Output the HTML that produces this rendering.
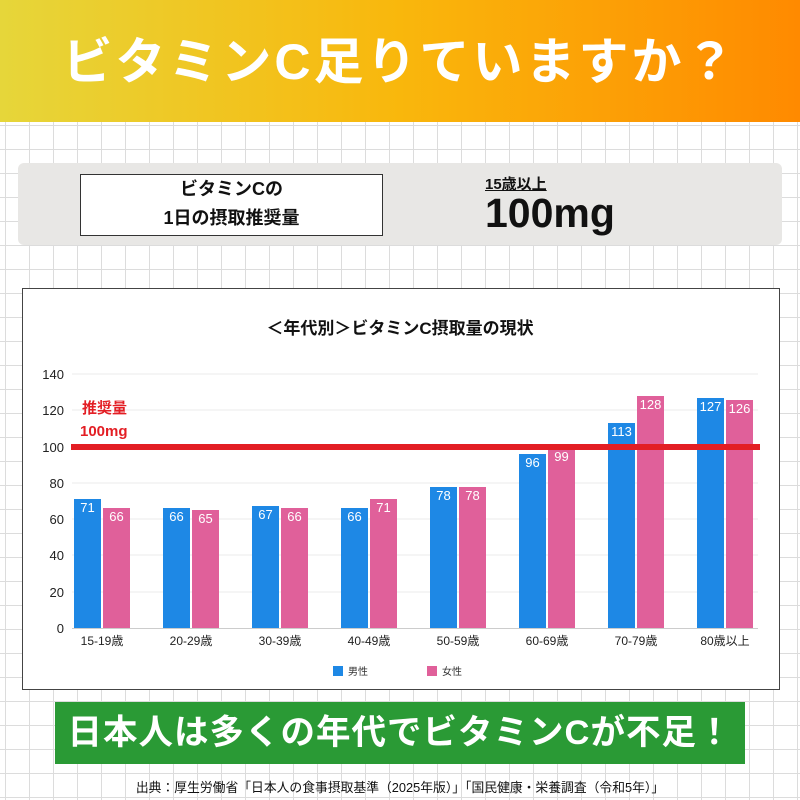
<!DOCTYPE html>
<html><head><meta charset="utf-8"><style>
body{margin:0;width:800px;height:800px;position:relative;overflow:hidden;font-family:"Liberation Sans","Noto Sans CJK JP",sans-serif;
background-color:#fff;background-image:linear-gradient(#dcdcdc 1px,transparent 1px),linear-gradient(90deg,#dcdcdc 1px,transparent 1px);background-size:24px 24px;background-position:5px 5px}
.abs{position:absolute}
</style></head><body>
<div class="abs" style="left:0;top:0;width:800px;height:122px;background:linear-gradient(90deg,#e6d63a 0%,#f9b70c 50%,#ff8a00 100%)"></div>
<div class="abs" style="left:0;top:22px;width:800px;text-align:center;color:#fff;font-size:50px;font-weight:bold;line-height:80px;letter-spacing:3px">ビタミンC足りていますか？</div>
<div class="abs" style="left:18px;top:163px;width:764px;height:82px;background:#e8e7e5;border-radius:6px"></div>
<div class="abs" style="left:80px;top:174px;width:301px;height:60px;background:#fff;border:1.5px solid #333;text-align:center;font-size:18px;font-weight:bold;line-height:29px;color:#111">ビタミンCの<br>1日の摂取推奨量</div>
<div class="abs" style="left:485px;top:173px;font-size:15px;font-weight:bold;text-decoration:underline;color:#111">15歳以上</div>
<div class="abs" style="left:485px;top:190px;font-size:41px;font-weight:bold;color:#111">100mg</div>
<div class="abs" style="left:22px;top:288px;width:756px;height:400px;background:#fff;border:1.5px solid #444"></div>
<svg class="abs" style="left:0;top:0" width="800" height="800" font-family="Liberation Sans, Noto Sans CJK JP, sans-serif">
<text x="400" y="334" text-anchor="middle" font-size="17" font-weight="bold" fill="#111">＜年代別＞ビタミンC摂取量の現状</text>
<g stroke="#ebebeb" stroke-width="1">
<line x1="72" x2="758" y1="374" y2="374"/><line x1="72" x2="758" y1="410" y2="410"/><line x1="72" x2="758" y1="447" y2="447"/><line x1="72" x2="758" y1="483" y2="483"/><line x1="72" x2="758" y1="519" y2="519"/><line x1="72" x2="758" y1="555" y2="555"/><line x1="72" x2="758" y1="592" y2="592"/></g>
<line x1="72" x2="758" y1="628.5" y2="628.5" stroke="#ccc"/>
<g font-size="13" fill="#222" text-anchor="end">
<text x="64" y="379">140</text><text x="64" y="415">120</text><text x="64" y="452">100</text><text x="64" y="488">80</text><text x="64" y="524">60</text><text x="64" y="560">40</text><text x="64" y="597">20</text><text x="64" y="633">0</text></g>
<g font-size="13" fill="#fff" text-anchor="middle">
<rect x="74" y="499" width="27" height="129" fill="#1e88e5"/><text x="87.5" y="512">71</text>
<rect x="103" y="508" width="27" height="120" fill="#e0609a"/><text x="116.5" y="521">66</text>
<rect x="163" y="508" width="27" height="120" fill="#1e88e5"/><text x="176.5" y="521">66</text>
<rect x="192" y="510" width="27" height="118" fill="#e0609a"/><text x="205.5" y="523">65</text>
<rect x="252" y="506" width="27" height="122" fill="#1e88e5"/><text x="265.5" y="519">67</text>
<rect x="281" y="508" width="27" height="120" fill="#e0609a"/><text x="294.5" y="521">66</text>
<rect x="341" y="508" width="27" height="120" fill="#1e88e5"/><text x="354.5" y="521">66</text>
<rect x="370" y="499" width="27" height="129" fill="#e0609a"/><text x="383.5" y="512">71</text>
<rect x="430" y="487" width="27" height="141" fill="#1e88e5"/><text x="443.5" y="500">78</text>
<rect x="459" y="487" width="27" height="141" fill="#e0609a"/><text x="472.5" y="500">78</text>
<rect x="519" y="454" width="27" height="174" fill="#1e88e5"/><text x="532.5" y="467">96</text>
<rect x="548" y="448" width="27" height="180" fill="#e0609a"/><text x="561.5" y="461">99</text>
<rect x="608" y="423" width="27" height="205" fill="#1e88e5"/><text x="621.5" y="436">113</text>
<rect x="637" y="396" width="27" height="232" fill="#e0609a"/><text x="650.5" y="409">128</text>
<rect x="697" y="398" width="27" height="230" fill="#1e88e5"/><text x="710.5" y="411">127</text>
<rect x="726" y="400" width="27" height="228" fill="#e0609a"/><text x="739.5" y="413">126</text>
</g>
<rect x="71" y="444" width="689" height="6" fill="#e31e24"/>
<text x="82" y="413" font-size="15" font-weight="bold" fill="#e31e24">推奨量</text>
<text x="80" y="436" font-size="15" font-weight="bold" fill="#e31e24">100mg</text>
<g font-size="12" fill="#222" text-anchor="middle">
<text x="102" y="645">15-19歳</text><text x="191" y="645">20-29歳</text><text x="280" y="645">30-39歳</text><text x="369" y="645">40-49歳</text><text x="458" y="645">50-59歳</text><text x="547" y="645">60-69歳</text><text x="636" y="645">70-79歳</text><text x="725" y="645">80歳以上</text></g>
<rect x="333" y="666" width="10" height="10" fill="#1e88e5"/><text x="348" y="675" font-size="10" fill="#333">男性</text>
<rect x="427" y="666" width="10" height="10" fill="#e0609a"/><text x="442" y="675" font-size="10" fill="#333">女性</text>
</svg>
<div class="abs" style="left:55px;top:702px;width:690px;height:62px;background:#2a9a35;color:#fff;font-size:34.5px;font-weight:bold;text-align:center;line-height:62px;letter-spacing:1px">日本人は多くの年代でビタミンCが不足！</div>
<div class="abs" style="left:0;top:777px;width:800px;text-align:center;font-size:12.8px;color:#111">出典：厚生労働省「日本人の食事摂取基準（2025年版）」「国民健康・栄養調査（令和5年）」</div>
</body></html>
